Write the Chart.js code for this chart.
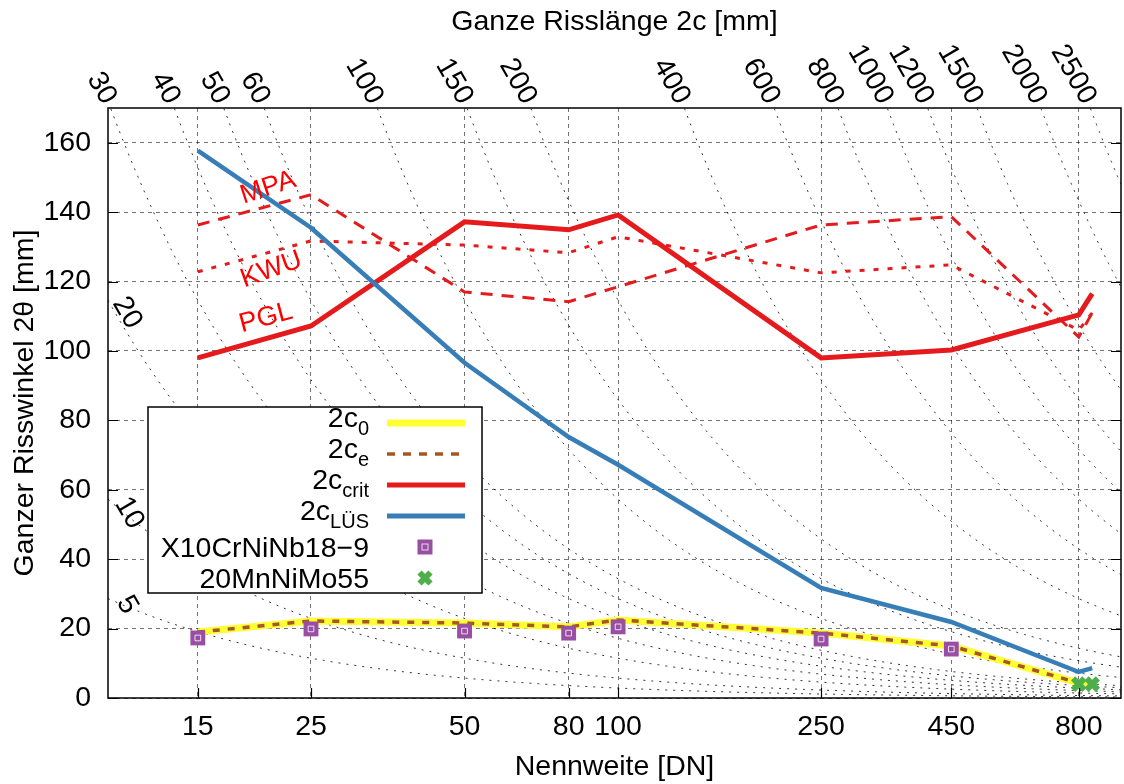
<!DOCTYPE html>
<html>
<head>
<meta charset="utf-8">
<script src="https://cdn.jsdelivr.net/npm/chart.js@4.4.1/dist/chart.umd.min.js"></script>
<style>
html, body { margin: 0; padding: 0; background: #fff; }
</style>
</head>
<body>
<canvas id="chart" width="1124" height="784"></canvas>
<script>
const family = '"Liberation Sans", Arial, Helvetica, sans-serif';
const fontSize = 28.5;

// Nennweite (x axis, log)
const dn = [15, 25, 50, 80, 100, 250, 450, 800, 850];
const dnTicks = [15, 25, 50, 80, 100, 250, 450, 800];
const yTicks = [0, 20, 40, 60, 80, 100, 120, 140, 160];

// series values (2θ in °)
const c0 = [19.0, 22.2, 21.6, 20.5, 22.5, 18.7, 15.0, 4.3, 4.3];
const ce = [19.0, 22.2, 21.6, 20.5, 22.5, 18.7, 15.0, 4.3, 4.3];
const crit = [98.0, 107.2, 137.2, 134.9, 139.2, 98.0, 100.3, 110.4, 116.5];
const lues = [157.7, 135.5, 96.6, 75.2, 67.2, 31.7, 21.9, 7.5, 8.6];
const mpa = [136.3, 145.0, 117.0, 114.2, 118.5, 136.3, 138.7, 104.0, 111.0];
const kwu = [122.8, 131.7, 130.5, 128.3, 132.9, 122.5, 124.8, 106.0, 111.0];

const x10Dn = [15, 25, 50, 80, 100, 250, 450];
const x10 = [17.3, 19.9, 19.3, 18.7, 20.5, 17.0, 14.1];
const mnDn = [800, 850];
const mn = [4.0, 4.0];

// iso lines of total crack length 2c [mm]
const isoLengths = [5, 10, 20, 30, 40, 50, 60, 100, 150, 200, 400, 600, 800, 1000, 1200, 1500, 2000, 2500];
const isoLeftLabels = [20, 10, 5];
const isoLeftPos = [[10.9, 111], [11.0, 53.3], [10.9, 26.8]];

const notes = ['MPA', 'KWU', 'PGL'];
const notePos = [[20.6, 147], [20.9, 123.4], [20.4, 109.5]];

const xMin = 10, xMax = 968, yMax = 170;
const k = Math.PI / 180;

function pts(xs, ys) { return xs.map((x, i) => ({x: x, y: ys[i]})); }

function isoPoints(c) {
  const x0 = Math.max(xMin, c / (k * (yMax + 2)));
  const out = [];
  const n = 80;
  for (let i = 0; i <= n; i++) {
    const x = x0 * Math.pow(xMax / x0, i / n);
    out.push({x: x, y: c / (k * x)});
  }
  return out;
}

const datasets = isoLengths.map(c => ({
  label: 'iso' + c, data: isoPoints(c), borderColor: 'rgba(0,0,0,0.8)',
  borderWidth: 1, borderDash: [2, 6], pointRadius: 0, order: 20
}));

function line(label, data, color, width, dash, order) {
  return {label: label, data: data, borderColor: color, borderWidth: width,
          borderDash: dash || [], pointRadius: 0, order: order, borderJoinStyle: 'miter'};
}

datasets.push(line('MPA', pts(dn, mpa), '#e41a1c', 3, [12, 9], 9));
datasets.push(line('KWU', pts(dn, kwu), '#e41a1c', 3, [5, 9], 9));
datasets.push(line('2c0', pts(dn, c0), '#ffff33', 7, null, 8));
datasets.push(line('2ce', pts(dn, ce), '#a65628', 3.5, [7, 8], 7));
datasets.push(line('2ccrit', pts(dn, crit), '#e41a1c', 5, null, 6));
datasets.push(line('2cLÜS', pts(dn, lues), '#377eb8', 4.5, null, 5));
datasets.push({label: 'X10CrNiNb18-9', data: pts(x10Dn, x10), showLine: false, pointStyle: 'rect',
  pointRadius: 10.5, backgroundColor: '#984ea3', borderColor: '#984ea3', borderWidth: 0, order: 2});
datasets.push({label: 'X10 inner', data: pts(x10Dn, x10), showLine: false, pointStyle: 'rect',
  pointRadius: 4, backgroundColor: 'rgba(0,0,0,0)', borderColor: 'rgba(255,255,255,0.8)', borderWidth: 1, order: 1});
datasets.push({label: '20MnNiMo55', data: pts(mnDn, mn), showLine: false, pointStyle: 'crossRot',
  pointRadius: 8, borderColor: '#4daf4a', borderWidth: 6, order: 0});

const legendRows = [
  {main: '2c', sub: '0', kind: 'line', color: '#ffff33', width: 7},
  {main: '2c', sub: 'e', kind: 'line', color: '#a65628', width: 3.5, dash: [8, 8]},
  {main: '2c', sub: 'crit', kind: 'line', color: '#e41a1c', width: 5},
  {main: '2c', sub: 'LÜS', kind: 'line', color: '#377eb8', width: 5},
  {main: 'X10CrNiNb18\u22129', kind: 'square'},
  {main: '20MnNiMo55', kind: 'cross'}
];

const extras = {
  id: 'extras',
  afterDatasetsDraw(chart) {
    const ctx = chart.ctx, a = chart.chartArea, x = chart.scales.x, y = chart.scales.y;
    ctx.save();

    // red annotations
    const rots = [-18, -20, -15];
    notes.forEach((t, i) => {
      ctx.save();
      ctx.translate(x.getPixelForValue(notePos[i][0]), y.getPixelForValue(notePos[i][1]));
      ctx.rotate(rots[i] * Math.PI / 180);
      ctx.fillStyle = '#ff0000';
      ctx.font = '27px ' + family;
      ctx.textAlign = 'center';
      ctx.textBaseline = 'middle';
      ctx.fillText(t, 0, 0);
      ctx.restore();
    });

    // iso labels at left
    isoLeftLabels.forEach((t, i) => {
      ctx.save();
      ctx.translate(x.getPixelForValue(isoLeftPos[i][0]), y.getPixelForValue(isoLeftPos[i][1]));
      ctx.rotate(60 * Math.PI / 180);
      ctx.fillStyle = '#000';
      ctx.font = fontSize + 'px ' + family;
      ctx.textAlign = 'center';
      ctx.textBaseline = 'middle';
      ctx.fillText(String(t), 0, 0);
      ctx.restore();
    });

    // top labels (2c where iso line meets the top border)
    isoLengths.forEach(c => {
      const d = c / (k * yMax);
      if (d < xMin || d > xMax) return;
      ctx.save();
      ctx.translate(x.getPixelForValue(d) - 1, a.top - 6);
      ctx.rotate(60 * Math.PI / 180);
      ctx.fillStyle = '#000';
      ctx.font = fontSize + 'px ' + family;
      ctx.textAlign = 'right';
      ctx.textBaseline = 'middle';
      ctx.fillText(String(c), 0, 0);
      ctx.restore();
    });

    // legend
    const lx = 148, ly = 407, lw = 334, lh = 186;
    ctx.fillStyle = '#fff';
    ctx.fillRect(lx, ly, lw, lh);
    ctx.strokeStyle = '#000';
    ctx.lineWidth = 1.5;
    ctx.strokeRect(lx, ly, lw, lh);
    legendRows.forEach((r, i) => {
      const ry = 423 + i * 31;
      const textRight = 369;
      ctx.fillStyle = '#000';
      ctx.textBaseline = 'alphabetic';
      ctx.textAlign = 'right';
      if (r.sub) {
        ctx.font = '20px ' + family;
        const sw = ctx.measureText(r.sub).width;
        ctx.fillText(r.sub, textRight, ry + 12);
        ctx.font = fontSize + 'px ' + family;
        ctx.fillText(r.main, textRight - sw, ry + 4);
      } else {
        ctx.font = fontSize + 'px ' + family;
        ctx.fillText(r.main, textRight, ry + 10);
      }
      if (r.kind === 'line') {
        ctx.save();
        ctx.strokeStyle = r.color;
        ctx.lineWidth = r.width;
        ctx.setLineDash(r.dash || []);
        ctx.beginPath();
        ctx.moveTo(387, ry);
        ctx.lineTo(465, ry);
        ctx.stroke();
        ctx.restore();
      } else if (r.kind === 'square') {
        ctx.fillStyle = '#984ea3';
        ctx.fillRect(425 - 7.5, ry - 7.5, 15, 15);
        ctx.strokeStyle = 'rgba(255,255,255,0.8)';
        ctx.lineWidth = 1;
        ctx.strokeRect(425 - 3, ry - 3, 6, 6);
      } else {
        ctx.save();
        ctx.strokeStyle = '#4daf4a';
        ctx.lineWidth = 6;
        ctx.beginPath();
        ctx.moveTo(425 - 5.5, ry - 5.5); ctx.lineTo(425 + 5.5, ry + 5.5);
        ctx.moveTo(425 + 5.5, ry - 5.5); ctx.lineTo(425 - 5.5, ry + 5.5);
        ctx.stroke();
        ctx.restore();
      }
    });

    // border and inward ticks
    ctx.strokeStyle = '#000';
    ctx.lineWidth = 1.5;
    ctx.setLineDash([]);
    ctx.strokeRect(a.left, a.top, a.right - a.left, a.bottom - a.top);
    ctx.lineWidth = 1.2;
    ctx.beginPath();
    yTicks.forEach(v => {
      const py = Math.round(y.getPixelForValue(v)) + 0.5;
      ctx.moveTo(a.left, py); ctx.lineTo(a.left + 10, py);
      ctx.moveTo(a.right, py); ctx.lineTo(a.right - 10, py);
    });
    dnTicks.forEach(v => {
      const px = Math.round(x.getPixelForValue(v)) + 0.5;
      ctx.moveTo(px, a.bottom); ctx.lineTo(px, a.bottom - 10);
    });
    ctx.stroke();
    ctx.restore();
  }
};

const tickFont = {size: fontSize, family: family};

new Chart(document.getElementById('chart'), {
  type: 'line',
  data: {datasets: datasets},
  options: {
    responsive: false,
    animation: false,
    layout: {autoPadding: false, padding: {left: 0, top: 0, right: 3, bottom: 0}},
    plugins: {legend: {display: false}, tooltip: {enabled: false}},
    scales: {
      x: {
        type: 'logarithmic', position: 'bottom', min: xMin, max: xMax,
        afterBuildTicks: s => { s.ticks = dnTicks.map(v => ({value: v})); },
        afterFit: s => { s.height = 86; },
        ticks: {autoSkip: false, maxRotation: 0, minRotation: 0, padding: 12, color: '#000', font: tickFont,
                callback: v => String(v)},
        grid: {color: 'rgba(0,0,0,0.55)', lineWidth: 1, drawTicks: false},
        border: {display: false, dash: [4, 4]},
        title: {display: true, text: 'Nennweite [DN]', color: '#000', font: tickFont, padding: {top: 0, bottom: 0}}
      },
      x2: {
        type: 'logarithmic', position: 'top', min: xMin, max: xMax,
        afterFit: s => { s.height = 108; },
        ticks: {display: false},
        grid: {display: false},
        border: {display: false},
        title: {display: true, text: 'Ganze Risslänge 2c [mm]', color: '#000', font: tickFont, padding: {top: 5, bottom: 0}}
      },
      y: {
        type: 'linear', min: 0, max: yMax,
        afterBuildTicks: s => { s.ticks = yTicks.map(v => ({value: v})); },
        afterFit: s => { s.width = 108; },
        ticks: {padding: 17, color: '#000', font: tickFont},
        grid: {color: 'rgba(0,0,0,0.55)', lineWidth: 1, drawTicks: false},
        border: {display: false, dash: [4, 4]},
        title: {display: true, text: 'Ganzer Risswinkel 2θ [mm]', color: '#000', font: tickFont, padding: {top: 8, bottom: 0}}
      }
    }
  },
  plugins: [extras]
});
</script>
</body>
</html>
